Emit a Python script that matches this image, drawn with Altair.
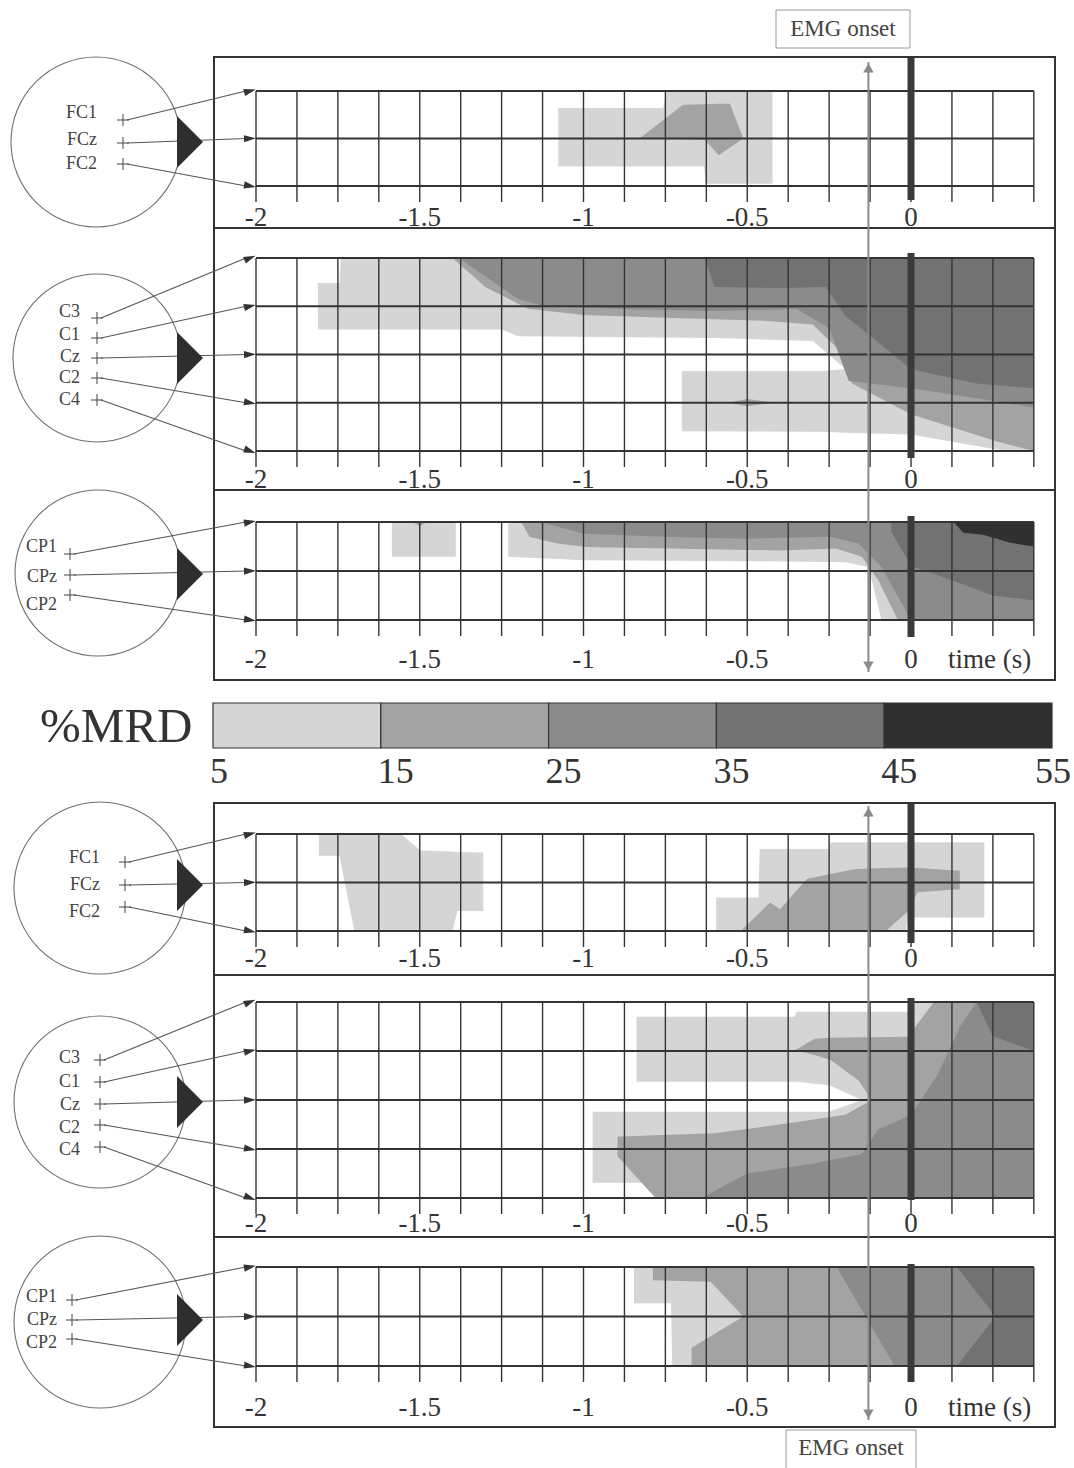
import math
import altair as alt
import pandas as pd

# ---------------- data ----------------
TIME_TICKS = [-2, -1.5, -1, -0.5, 0]
TIME_TICK_LABELS = ["-2", "-1.5", "-1", "-0.5", "0"]
GRID_START, GRID_END, GRID_STEP = -2.0, 0.375, 0.125
EMG_ONSET_S = -0.13
MRD_EDGES = [5, 15, 25, 35, 45, 55]
MRD_COLORS = ["#d5d5d5", "#a3a3a3", "#8b8b8b", "#727272", "#303030"]

FC_SITES = ["FC1", "FCz", "FC2"]
C_SITES = ["C3", "C1", "Cz", "C2", "C4"]
CP_SITES = ["CP1", "CPz", "CP2"]

# contour bands: (MRD level 1..5, [(time s, upper row, lower row), ...]); row 0 = first electrode
FC_TOP = [
    (1, [(-1.077, 0.36, 1.59), (-0.757, 0.36, 1.59), (-0.745, 0.0, 1.59), (-0.632, 0.0, 1.59),
         (-0.627, 0.0, 1.95), (-0.423, 0.0, 1.95)]),
    (2, [(-0.829, 1.0, 1.0), (-0.696, 0.29, 1.02), (-0.629, 0.28, 1.03), (-0.587, 0.27, 1.35),
         (-0.553, 0.27, 1.19), (-0.512, 1.0, 1.0)]),
]
C_TOP = [
    (1, [(-1.811, 0.52, 1.48), (-1.745, 0.52, 1.48), (-1.741, 0.0, 1.48), (-1.25, 0.0, 1.48),
         (-1.2, 0.0, 1.62), (-0.6, 0.0, 1.66), (-0.3, 0.0, 1.72), (-0.2, 0.0, 2.3), (0.0, 0.0, 3.0),
         (0.2, 0.0, 3.5), (0.375, 0.0, 3.9)]),
    (1, [(-0.70, 2.34, 3.59), (-0.27, 2.34, 3.60), (-0.2, 2.3, 3.62), (0.0, 2.5, 3.66),
         (0.26, 3.0, 3.97), (0.375, 3.5, 4.0)]),
    (2, [(-1.40, 0.0, 0.0), (-1.3, 0.0, 0.6), (-1.17, 0.0, 1.05), (-1.0, 0.0, 1.18), (-0.7, 0.0, 1.25),
         (-0.45, 0.0, 1.3), (-0.3, 0.0, 1.38), (-0.22, 0.0, 1.9), (-0.18, 0.0, 2.6), (0.0, 0.0, 3.24),
         (0.26, 0.0, 3.8), (0.375, 0.0, 4.0)]),
    (2, [(-0.56, 3.0, 3.0), (-0.5, 2.92, 3.07), (-0.42, 3.0, 3.0)]),
    (3, [(-1.38, 0.0, 0.0), (-1.2, 0.0, 0.85), (-1.12, 0.0, 1.0), (-0.9, 0.0, 1.05), (-0.6, 0.0, 1.1),
         (-0.35, 0.0, 1.05), (-0.25, 0.0, 1.45), (-0.19, 0.0, 2.55), (0.0, 0.0, 2.7), (0.26, 0.0, 2.97),
         (0.375, 0.0, 3.1)]),
    (4, [(-0.63, 0.0, 0.0), (-0.6, 0.0, 0.6), (-0.4, 0.0, 0.62), (-0.26, 0.0, 0.6), (-0.2, 0.0, 1.2),
         (0.0, 0.0, 2.3), (0.2, 0.0, 2.6), (0.375, 0.0, 2.7)]),
]
CP_TOP = [
    (1, [(-1.585, 0.0, 0.71), (-1.39, 0.0, 0.71)]),
    (1, [(-1.23, 0.0, 0.71), (-1.0, 0.0, 0.78), (-0.5, 0.0, 0.8), (-0.2, 0.0, 0.82), (-0.13, 0.0, 0.92),
         (-0.09, 0.0, 2.0), (0.375, 0.0, 2.0)]),
    (2, [(-1.52, 0.0, 0.0), (-1.5, 0.0, 0.09), (-1.48, 0.0, 0.0)]),
    (2, [(-1.19, 0.0, 0.0), (-1.165, 0.0, 0.3), (-1.08, 0.0, 0.44), (-0.99, 0.0, 0.51), (-0.4, 0.0, 0.58),
         (-0.23, 0.0, 0.54), (-0.15, 0.0, 0.71), (-0.10, 0.0, 1.19), (-0.04, 0.0, 2.0), (0.375, 0.0, 2.0)]),
    (3, [(-1.13, 0.0, 0.0), (-1.0, 0.0, 0.24), (-0.75, 0.0, 0.3), (-0.5, 0.0, 0.34), (-0.25, 0.0, 0.3),
         (-0.16, 0.0, 0.44), (-0.09, 0.0, 0.92), (-0.05, 0.0, 1.4), (0.0, 0.0, 2.0), (0.375, 0.0, 2.0)]),
    (4, [(-0.06, 0.0, 0.2), (0.0, 0.0, 0.9), (0.13, 0.0, 1.2), (0.25, 0.0, 1.5), (0.375, 0.0, 1.6)]),
    (5, [(0.13, 0.0, 0.0), (0.16, 0.0, 0.22), (0.22, 0.0, 0.26), (0.3, 0.0, 0.42), (0.375, 0.0, 0.5)]),
]
FC_BOTTOM = [
    (1, [(-1.808, 0.0, 0.45), (-1.745, 0.0, 0.45), (-1.70, 0.0, 2.0), (-1.557, 0.0, 2.0),
         (-1.498, 0.34, 2.0), (-1.40, 0.36, 2.0), (-1.385, 0.37, 1.59), (-1.306, 0.38, 1.59)]),
    (1, [(-0.595, 1.31, 2.0), (-0.466, 1.31, 2.0), (-0.462, 0.31, 2.0), (-0.25, 0.31, 2.0),
         (-0.245, 0.17, 2.0), (-0.015, 0.17, 2.0), (-0.01, 0.17, 1.72), (0.224, 0.17, 1.72)]),
    (2, [(-0.52, 2.0, 2.0), (-0.43, 1.41, 2.0), (-0.40, 1.55, 2.0), (-0.318, 0.93, 2.0), (-0.25, 0.83, 2.0),
         (-0.167, 0.72, 2.0), (-0.077, 0.70, 2.0), (-0.01, 0.69, 1.6), (0.02, 0.70, 1.2), (0.149, 0.76, 1.14)]),
]
C_BOTTOM = [
    (1, [(-0.838, 0.30, 1.63), (-0.355, 0.30, 1.63), (-0.35, 0.20, 1.63), (-0.25, 0.2, 1.7),
         (-0.15, 0.2, 2.0), (0.0, 0.2, 2.0), (0.005, 0.0, 2.0), (0.375, 0.0, 2.0)]),
    (1, [(-0.972, 2.24, 3.69), (-0.25, 2.24, 3.69), (-0.15, 2.0, 3.69), (0.375, 2.0, 4.0)]),
    (2, [(-0.353, 0.98, 0.99), (-0.294, 0.75, 1.08), (-0.244, 0.73, 1.19), (-0.16, 0.72, 1.6),
         (-0.12, 0.72, 2.0), (-0.01, 0.71, 2.0), (0.07, 0.0, 2.0), (0.375, 0.0, 2.0)]),
    (2, [(-0.896, 2.75, 3.15), (-0.78, 2.72, 4.0), (-0.6, 2.68, 4.0), (-0.4, 2.5, 4.0), (-0.2, 2.3, 4.0),
         (-0.12, 2.0, 4.0), (0.375, 2.0, 4.0)]),
    (3, [(-0.64, 4.0, 4.0), (-0.5, 3.5, 4.0), (-0.3, 3.3, 4.0), (-0.15, 3.1, 4.0), (-0.1, 2.6, 4.0),
         (0.0, 2.3, 4.0), (0.08, 1.5, 4.0), (0.15, 0.5, 4.0), (0.2, 0.0, 4.0), (0.375, 0.0, 4.0)]),
    (4, [(0.2, 0.0, 0.0), (0.25, 0.0, 0.7), (0.375, 0.0, 1.0)]),
]
CP_BOTTOM = [
    (1, [(-0.846, 0.0, 0.73), (-0.733, 0.0, 0.73), (-0.729, 0.0, 2.0), (0.375, 0.0, 2.0)]),
    (2, [(-0.788, 0.0, 0.27), (-0.612, 0.0, 0.30), (-0.512, 0.0, 1.0), (0.375, 0.0, 1.0)]),
    (2, [(-0.67, 1.63, 2.0), (-0.604, 1.37, 2.0), (-0.512, 1.0, 2.0), (0.375, 1.0, 2.0)]),
    (3, [(-0.227, 0.0, 0.0), (-0.05, 0.0, 2.0), (0.375, 0.0, 2.0)]),
    (4, [(0.14, 0.0, 0.0), (0.258, 0.0, 1.0), (0.375, 0.0, 1.0)]),
    (4, [(0.14, 2.0, 2.0), (0.258, 1.0, 2.0), (0.375, 1.0, 2.0)]),
]

# ---------------- layout (figure pixels) ----------------
W, H = 1074, 1468
X0_PX, PX_PER_S = 911.0, 327.5


def tx(px):
    return (px - X0_PX) / PX_PER_S


PANELS = [
    dict(sites=FC_SITES, regions=FC_TOP, f0=57, f1=228, r0=91, dr=47.5, lab=226, z0=58, z1=200, tl=False,
         head=dict(cx=96, cy=142, r=85, lx=97, ly=[113, 140, 164], px=123, py=[120, 143, 164], tri=142)),
    dict(sites=C_SITES, regions=C_TOP, f0=228, f1=490, r0=258, dr=48.25, lab=488, z0=253, z1=458, tl=False,
         head=dict(cx=97, cy=358, r=84, lx=80, ly=[312, 335, 357, 378, 400], px=97,
                   py=[318, 338, 358, 378, 400], tri=358)),
    dict(sites=CP_SITES, regions=CP_TOP, f0=490, f1=680, r0=522, dr=49, lab=668, z0=516, z1=637, tl=True,
         head=dict(cx=98, cy=573, r=83, lx=57, ly=[547, 577, 605], px=70, py=[554, 575, 595], tri=574)),
    dict(sites=FC_SITES, regions=FC_BOTTOM, f0=803, f1=975, r0=834, dr=48.5, lab=967, z0=804, z1=943, tl=False,
         head=dict(cx=100, cy=888, r=86, lx=100, ly=[858, 885, 912], px=125, py=[862, 885, 907], tri=885)),
    dict(sites=C_SITES, regions=C_BOTTOM, f0=975, f1=1237, r0=1002, dr=49, lab=1232, z0=998, z1=1200, tl=False,
         head=dict(cx=100, cy=1102, r=86, lx=80, ly=[1058, 1082, 1105, 1128, 1150], px=100,
                   py=[1060, 1082, 1104, 1125, 1147], tri=1102)),
    dict(sites=CP_SITES, regions=CP_BOTTOM, f0=1237, f1=1427, r0=1267, dr=49.5, lab=1416, z0=1264, z1=1382, tl=True,
         head=dict(cx=100, cy=1322, r=86, lx=57, ly=[1297, 1320, 1343], px=72, py=[1300, 1320, 1339], tri=1320)),
]
FRAME_X = (214, 1055)
FONT = "Liberation Serif"
INK = "#333333"

# ---------------- build tables ----------------
reg, vgrid, hgrid, zbar, frames, ticks, tlabels = [], [], [], [], [], [], []
circles, tris, pluses, elabels, links, heads_arrow = [], [], [], [], [], []
n_cols = int(round((GRID_END - GRID_START) / GRID_STEP))
for pi, P in enumerate(PANELS):
    r0, dr, n = P["r0"], P["dr"], len(P["sites"])
    rlast = r0 + (n - 1) * dr
    for ri, (lvl, pts) in enumerate(P["regions"]):
        for (t, a, b) in pts:
            reg.append(dict(piece=f"{pi}-{ri}", level=lvl, t=t, y=r0 + a * dr, y2=r0 + b * dr))
    for k in range(n_cols + 1):
        vgrid.append(dict(t=GRID_START + k * GRID_STEP, y=r0, y2=rlast + 16))
    for i in range(n):
        hgrid.append(dict(t=GRID_START, t2=GRID_END, y=r0 + i * dr))
    zbar.append(dict(t=0.0, y=P["z0"], y2=P["z1"]))
    frames.append(dict(t=tx(FRAME_X[0]), t2=tx(FRAME_X[1]), y=P["f0"], y2=P["f1"]))
    for v, s in zip(TIME_TICKS, TIME_TICK_LABELS):
        ticks.append(dict(t=v, y=P["lab"], s=s))
    if P["tl"]:
        tlabels.append(dict(t=tx(948), y=P["lab"], s="time (s)"))
    hd = P["head"]
    circles.append(dict(t=tx(hd["cx"]), y=hd["cy"], size=(2 * hd["r"]) ** 2))
    tris.append(dict(t=tx(190), y=hd["tri"]))
    for i, site in enumerate(P["sites"]):
        elabels.append(dict(t=tx(hd["lx"]), y=hd["ly"][i], s=site))
        pluses.append(dict(t=tx(hd["px"]), y=hd["py"][i]))
        ty = r0 + i * dr
        sx, sy, ex, ey = hd["px"] + 4, hd["py"][i], 246.0, ty
        ang = math.degrees(math.atan2(ey - sy, ex - sx)) % 360
        links.append(dict(t=tx(sx), t2=tx(ex), y=sy, y2=ey))
        heads_arrow.append(dict(t=tx(250), y=ty, ang=ang))

df_reg = pd.DataFrame(reg)

XS = alt.Scale(domain=[tx(0), tx(W)], nice=False, zero=False)
YS = alt.Scale(domain=[0, H], reverse=True, nice=False, zero=False)


def X(f="t"):
    return alt.X(f"{f}:Q", scale=XS, axis=None)


def Y(f="y"):
    return alt.Y(f"{f}:Q", scale=YS, axis=None)


def C(rows):
    return alt.Chart(pd.DataFrame(rows))


layers = []
for lvl in range(1, 6):
    sub = df_reg[df_reg.level == lvl]
    if len(sub):
        layers.append(alt.Chart(sub).mark_area(color=MRD_COLORS[lvl - 1], opacity=1, interpolate="linear")
                      .encode(x=X(), y=Y(), y2=alt.Y2("y2:Q"), detail="piece:N"))

layers.append(C(vgrid).mark_rule(color=INK, strokeWidth=1.4).encode(x=X(), y=Y(), y2=alt.Y2("y2:Q")))
layers.append(C(hgrid).mark_rule(color=INK, strokeWidth=2.2).encode(x=X(), x2=alt.X2("t2:Q"), y=Y()))
layers.append(C(zbar).mark_rule(color="#3a3a3a", strokeWidth=7).encode(x=X(), y=Y(), y2=alt.Y2("y2:Q")))
layers.append(C(frames).mark_rect(fillOpacity=0, stroke=INK, strokeWidth=2)
              .encode(x=X(), x2=alt.X2("t2:Q"), y=Y(), y2=alt.Y2("y2:Q")))
layers.append(C(ticks).mark_text(font=FONT, fontSize=27, color=INK, align="center", baseline="alphabetic")
              .encode(x=X(), y=Y(), text="s:N"))
layers.append(C(tlabels).mark_text(font=FONT, fontSize=27, color=INK, align="left", baseline="alphabetic")
              .encode(x=X(), y=Y(), text="s:N"))

# head schematics
layers.append(C(circles).mark_point(shape="circle", filled=False, stroke="#707070", strokeWidth=1.1, opacity=1)
              .encode(x=X(), y=Y(), size=alt.Size("size:Q", scale=None, legend=None)))
layers.append(C(links).mark_rule(color="#555555", strokeWidth=1.1)
              .encode(x=X(), x2=alt.X2("t2:Q"), y=Y(), y2=alt.Y2("y2:Q")))
layers.append(C(heads_arrow).mark_point(shape="M -1 -0.6 L 1 0 L -1 0.6 Z", filled=True, size=144,
                                        color="#333333", opacity=1)
              .encode(x=X(), y=Y(), angle=alt.Angle("ang:Q", scale=None)))
layers.append(C(tris).mark_point(shape="M -0.5 -1 L 0.5 0 L -0.5 1 Z", filled=True, size=2704,
                                 color="#2e2e2e", opacity=1)
              .encode(x=X(), y=Y()))
layers.append(C(pluses).mark_point(shape="M -1 0 L 1 0 M 0 -1 L 0 1", filled=False, size=144,
                                   stroke="#444444", strokeWidth=1, opacity=1)
              .encode(x=X(), y=Y()))
layers.append(C(elabels).mark_text(font=FONT, fontSize=18, color="#444444", align="right", baseline="middle")
              .encode(x=X(), y=Y(), text="s:N"))

# EMG onset markers
emg_lines = [dict(t=EMG_ONSET_S, y=62, y2=672), dict(t=EMG_ONSET_S, y=806, y2=1420)]
layers.append(C(emg_lines).mark_rule(color="#8a8a8a", strokeWidth=2).encode(x=X(), y=Y(), y2=alt.Y2("y2:Q")))
emg_up = [dict(t=EMG_ONSET_S, y=68), dict(t=EMG_ONSET_S, y=812)]
emg_dn = [dict(t=EMG_ONSET_S, y=666), dict(t=EMG_ONSET_S, y=1414)]
layers.append(C(emg_up).mark_point(shape="triangle-up", filled=True, size=110, color="#8a8a8a", opacity=1)
              .encode(x=X(), y=Y()))
layers.append(C(emg_dn).mark_point(shape="triangle-down", filled=True, size=110, color="#8a8a8a", opacity=1)
              .encode(x=X(), y=Y()))
emg_boxes = [dict(t=tx(776), t2=tx(910), y=10, y2=48), dict(t=tx(786), t2=tx(916), y=1430, y2=1472)]
layers.append(C(emg_boxes).mark_rect(fill="white", stroke="#999999", strokeWidth=1)
              .encode(x=X(), x2=alt.X2("t2:Q"), y=Y(), y2=alt.Y2("y2:Q")))
emg_text = [dict(t=tx(843), y=29, s="EMG onset"), dict(t=tx(851), y=1448, s="EMG onset")]
layers.append(C(emg_text).mark_text(font=FONT, fontSize=23, color="#444444", align="center", baseline="middle")
              .encode(x=X(), y=Y(), text="s:N"))

# %MRD legend
LEG_X0, LEG_X1, LEG_Y0, LEG_Y1 = 213, 1052, 703, 748


def leg_t(v):
    return tx(LEG_X0 + (v - MRD_EDGES[0]) / (MRD_EDGES[-1] - MRD_EDGES[0]) * (LEG_X1 - LEG_X0))


leg_rects = [dict(t=leg_t(a), t2=leg_t(b), y=LEG_Y0, y2=LEG_Y1, c=MRD_COLORS[i])
             for i, (a, b) in enumerate(zip(MRD_EDGES[:-1], MRD_EDGES[1:]))]
layers.append(C(leg_rects).mark_rect(stroke=INK, strokeWidth=1.2)
              .encode(x=X(), x2=alt.X2("t2:Q"), y=Y(), y2=alt.Y2("y2:Q"),
                      fill=alt.Fill("c:N", scale=None, legend=None)))
leg_lab = [dict(t=leg_t(v), y=783, s=str(v)) for v in MRD_EDGES[:-1]]
layers.append(C(leg_lab).mark_text(font=FONT, fontSize=36, color=INK, align="left", baseline="alphabetic", dx=-3)
              .encode(x=X(), y=Y(), text="s:N"))
layers.append(C([dict(t=leg_t(MRD_EDGES[-1]), y=783, s=str(MRD_EDGES[-1]))])
              .mark_text(font=FONT, fontSize=36, color=INK, align="right", baseline="alphabetic", dx=19)
              .encode(x=X(), y=Y(), text="s:N"))
layers.append(C([dict(t=tx(40), y=742, s="%MRD")])
              .mark_text(font=FONT, fontSize=49, color=INK, align="left", baseline="alphabetic")
              .encode(x=X(), y=Y(), text="s:N"))

chart = alt.layer(*layers).properties(
    width=W, height=H, padding=0, autosize=alt.AutoSizeParams(type="none"), background="white"
).configure_view(stroke=None)

chart.save("out.html", embed_options={"renderer": "svg", "actions": False})
